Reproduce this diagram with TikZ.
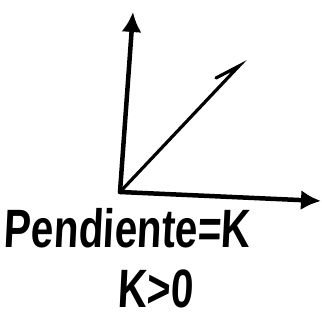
\documentclass[tikz,border=0pt]{standalone}
\usepackage{fontspec}
\usepackage{tikz}
\usetikzlibrary{arrows.meta}
\newfontfamily\handfont[FakeStretch=0.75,FakeSlant=0.05]{Liberation Sans}

\begin{document}
\begin{tikzpicture}[x=1pt,y=1pt,
  axis/.style={line width=4.5pt,line cap=round,-{Latex[length=20pt,width=20pt]}},
  ray/.style={line width=3.2pt,line cap=round},
  lbl/.style={font=\handfont\fontsize{54}{54}\selectfont\bfseries,inner sep=0pt,
              anchor=base}]
\useasboundingbox (0,0) rectangle (322,320);

\coordinate (o) at (120,128);
\coordinate (ytop) at (133,308);
\coordinate (xend) at (321,119);
\coordinate (tip) at (239,254);
\coordinate (hook) at (216,242);

\draw[axis] (o) -- (ytop);
\draw[axis] (o) -- (xend);
\draw[ray] (o) -- (tip) -- (hook);

\node[lbl] (slope) at (127,72) {Pendiente=K};
\node[lbl] (cond) at (155,12) {K>0};
\end{tikzpicture}
\end{document}
